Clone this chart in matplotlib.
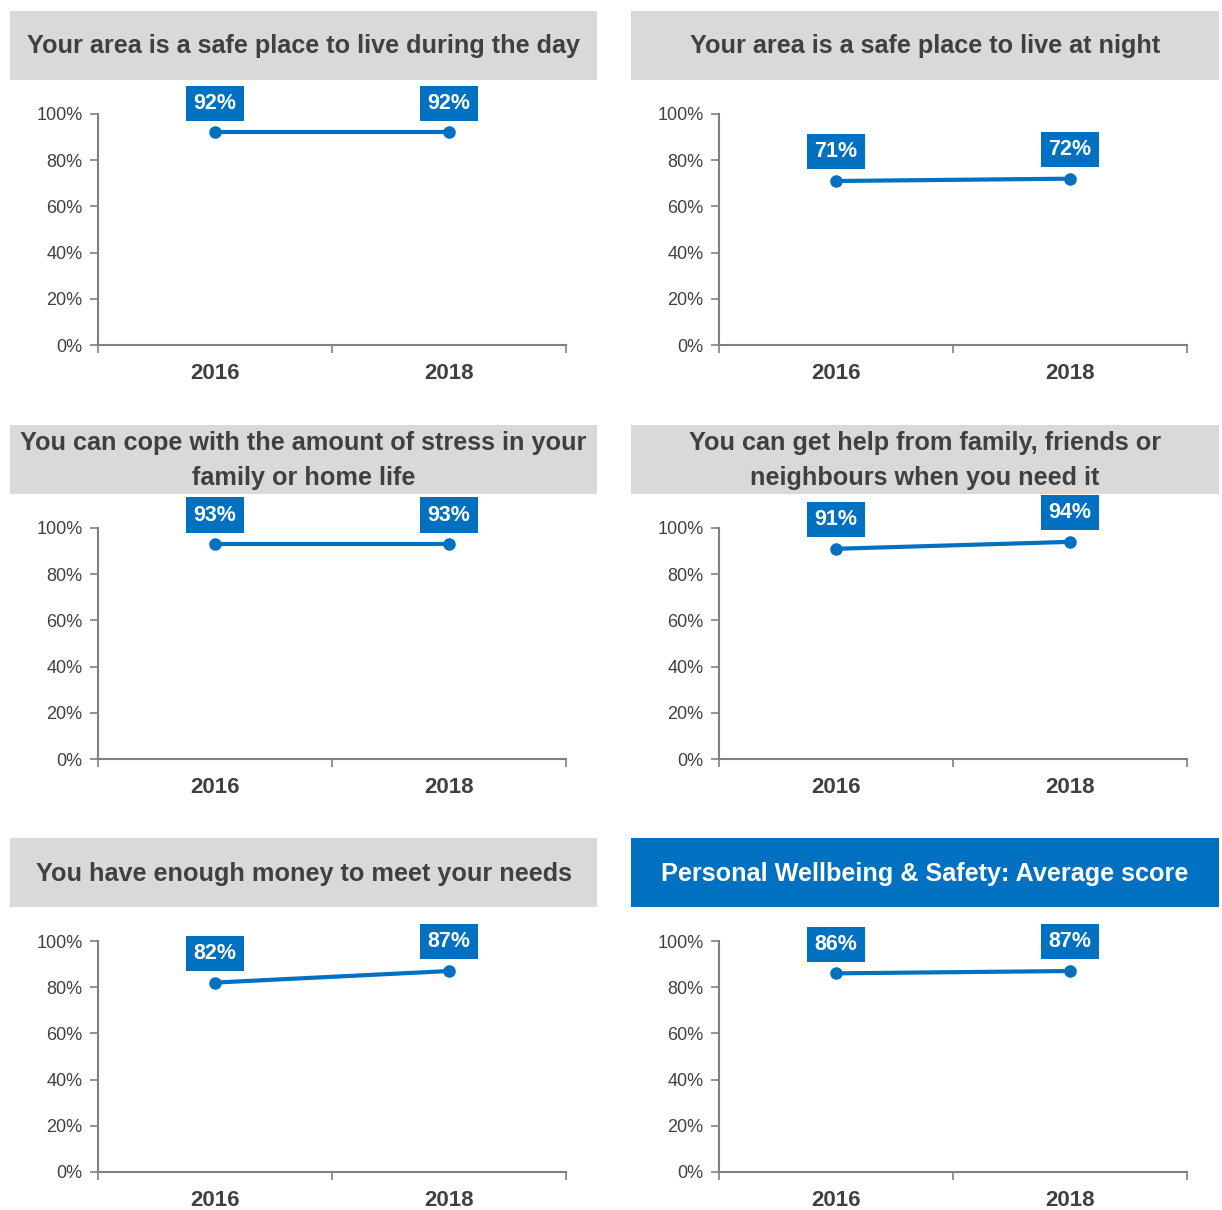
import matplotlib.pyplot as plt
from matplotlib.patches import Rectangle

plt.rcParams['font.family'] = ['Liberation Sans', 'DejaVu Sans']

titles = [
    "Your area is a safe place to live during the day",
    "Your area is a safe place to live at night",
    "You can cope with the amount of stress in your\nfamily or home life",
    "You can get help from family, friends or\nneighbours when you need it",
    "You have enough money to meet your needs",
    "Personal Wellbeing & Safety: Average score",
]
years = ["2016", "2018"]
v2016 = [92, 71, 93, 91, 82, 86]
v2018 = [92, 72, 93, 94, 87, 87]

W, H = 1222, 1210
BLUE = "#0070c0"
GREY_TXT = "#404040"

fig = plt.figure(figsize=(W / 100, H / 100), dpi=100)


def fx(px):
    return px / W


def fy(py):
    return 1 - py / H


col_head = [(10, 597), (631, 1219)]
col_axes = [(98, 566), (719, 1187)]
row_off = [0, 414, 827]

for i, title in enumerate(titles):
    r, c = divmod(i, 2)
    off = row_off[r]
    # header box
    hx0, hx1 = col_head[c]
    hy0, hy1 = 11 + off, 80 + off
    last = i == len(titles) - 1
    bg = BLUE if last else "#d9d9d9"
    fg = "white" if last else GREY_TXT
    fig.patches.append(Rectangle((fx(hx0), fy(hy1)), fx(hx1 - hx0), (hy1 - hy0) / H,
                                 transform=fig.transFigure, facecolor=bg,
                                 edgecolor="none", zorder=0))
    fig.text(fx((hx0 + hx1) / 2), fy((hy0 + hy1) / 2 + 1), title, ha="center", va="center",
             fontsize=18.2, fontweight="bold", color=fg, linespacing=1.55)

    # axes
    ax0, ax1 = col_axes[c]
    ay0, ay1 = 114 + off, 345 + off
    ax = fig.add_axes([fx(ax0), fy(ay1), fx(ax1 - ax0), (ay1 - ay0) / H])
    vals = [v2016[i] / 100, v2018[i] / 100]
    xs = range(len(years))
    ax.plot(xs, vals, color=BLUE, lw=3, marker="o", ms=8, clip_on=False, zorder=3)
    for x, v in zip(xs, vals):
        ax.annotate(f"{round(v * 100)}%", (x, v), xytext=(0, 21), textcoords="offset points",
                    ha="center", va="center", fontsize=15.5, fontweight="bold", color="white",
                    bbox=dict(boxstyle="square,pad=0.33", fc=BLUE, ec="none"),
                    annotation_clip=False)
    ax.set_xlim(-0.5, 1.5)
    ax.set_ylim(0, 1)
    ax.set_yticks([0, 0.2, 0.4, 0.6, 0.8, 1.0])
    ax.set_yticklabels(["0%", "20%", "40%", "60%", "80%", "100%"])
    ax.set_xticks([-0.5, 0.5, 1.5])
    ax.set_xticklabels([])
    ax.set_xticks(list(xs), minor=True)
    ax.set_xticklabels(years, minor=True)
    ax.tick_params(axis="x", which="minor", length=0, pad=13, labelsize=16,
                   labelcolor=GREY_TXT)
    for lab in ax.get_xticklabels(minor=True):
        lab.set_fontweight("bold")
    ax.tick_params(axis="x", which="major", length=6, width=1.2, color="#808080")
    ax.tick_params(axis="y", length=6, width=1.2, color="#808080", labelsize=13,
                   labelcolor=GREY_TXT, pad=5)
    for s in ["top", "right"]:
        ax.spines[s].set_visible(False)
    for s in ["left", "bottom"]:
        ax.spines[s].set_color("#808080")
        ax.spines[s].set_linewidth(1.5)
    ax.patch.set_alpha(0)

fig.savefig("out.png", dpi=100, facecolor="white")
